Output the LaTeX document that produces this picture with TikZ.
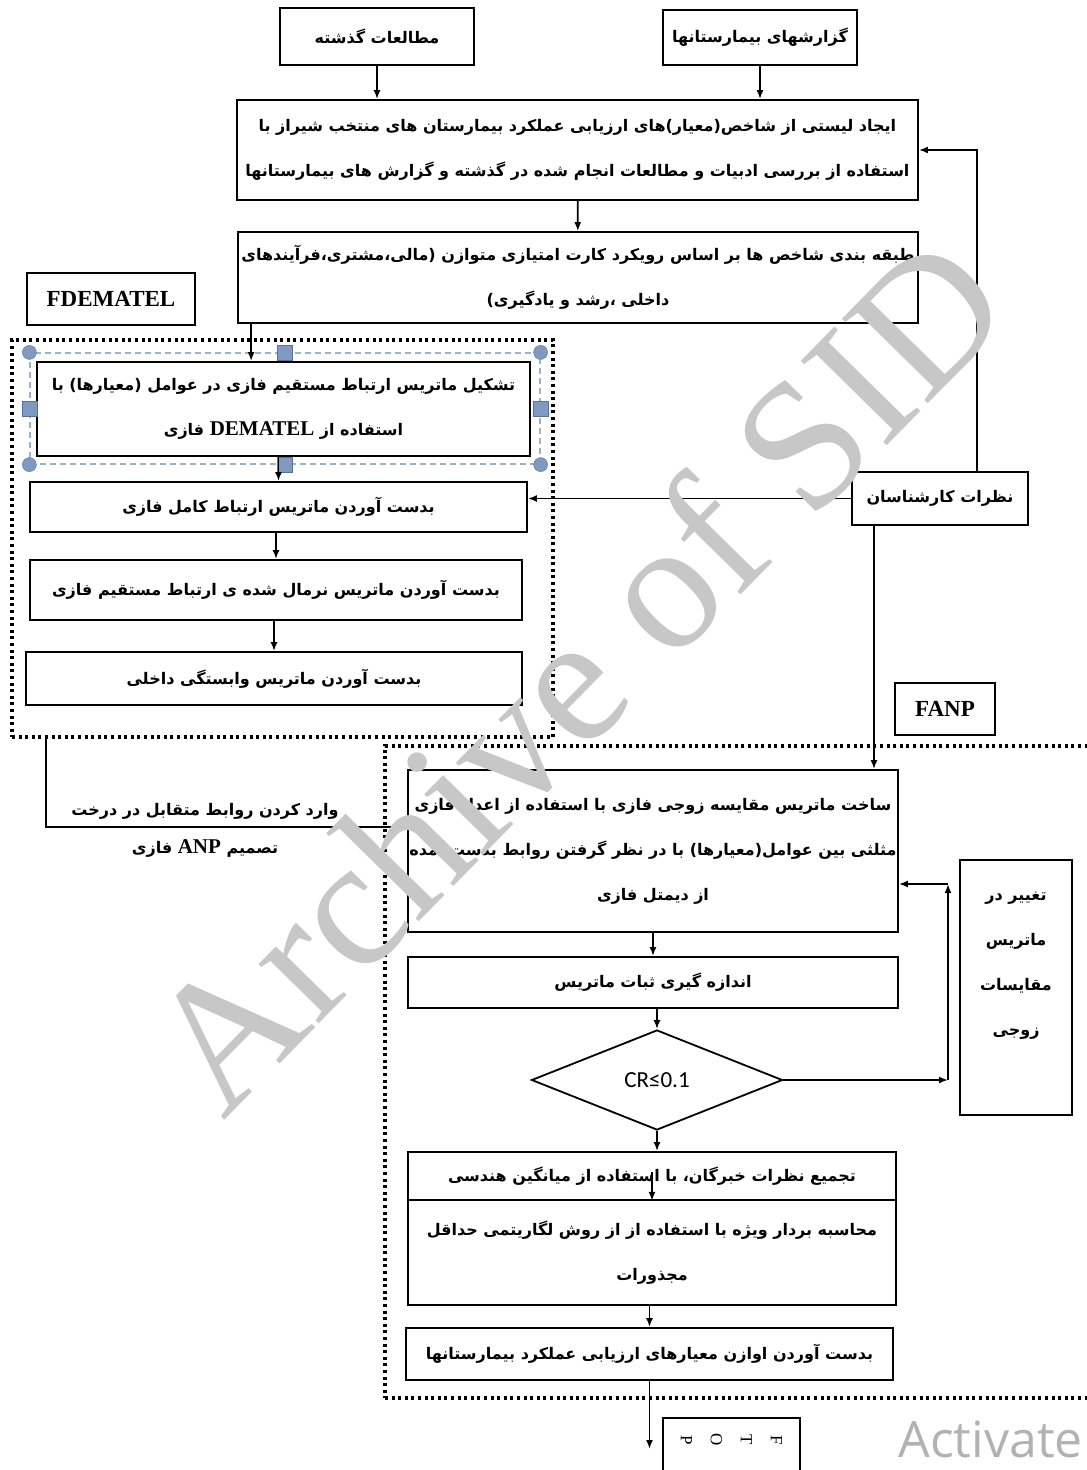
\documentclass[tikz,border=0pt]{standalone}
\usepackage{fontspec}
\usepackage{tikz}
\usetikzlibrary{shapes.geometric}
\usetikzlibrary{arrows.meta}
\setmainfont{Liberation Serif}
\newfontfamily\farsifont[Script=Arabic]{DejaVu Sans}
\newfontfamily\crfont{Carlito}
\newfontfamily\winfont{Open Sans}
\TeXXeTstate=1
\newcommand{\fa}[1]{{\farsifont\bfseries\beginR #1\endR}}
\newcommand{\lat}[1]{\beginL{\rmfamily\bfseries\fontsize{21}{21}\selectfont #1}\endL{}}
\definecolor{selblue}{HTML}{9DB2D0}
\definecolor{handlefill}{HTML}{7F9AC0}
\definecolor{handleline}{HTML}{55729F}

\begin{document}
\begin{tikzpicture}[x=1pt,y=-1pt,
    box/.style={draw,line width=1.8pt,inner sep=0pt,align=center,font=\fontsize{16}{45}\selectfont},
    tag/.style={draw,line width=1.8pt,inner sep=0pt,font=\fontsize{23}{26}\selectfont\bfseries},
    group/.style={draw,line width=3.6pt,dash pattern=on 3pt off 3.6pt,inner sep=0pt},
    flow/.style={-{Latex[length=9pt,width=7pt]},line width=1.8pt},
    selframe/.style={draw=selblue,dash pattern=on 6pt off 4pt,line width=1.2pt,inner sep=0pt},
    hsq/.style={draw=handleline,fill=handlefill,minimum size=15pt,inner sep=0pt},
    hcirc/.style={circle,draw=handleline,fill=handlefill,minimum size=14pt,inner sep=0pt}]
  \clip (0,0) rectangle (1087,1470);
  % sources and preparation
  \node (past) at (377,36.5) [box,minimum width=194,minimum height=57] {\fa{مطالعات گذشته}};
  \node (reports) at (760,37.5) [box,minimum width=194,minimum height=55] {\fa{گزارشهای بیمارستانها}};
  \node (list) at (577.5,150) [box,minimum width=681,minimum height=100]
    {\fa{ایجاد لیستی از شاخص(معیار)های ارزیابی عملکرد بیمارستان های منتخب شیراز با}\\
     \fa{استفاده از بررسی ادبیات و مطالعات انجام شده در گذشته و گزارش های بیمارستانها}};
  \node (classify) at (578,277.5) [box,minimum width=680,minimum height=91]
    {\fa{طبقه بندی شاخص ها بر اساس رویکرد کارت امتیازی متوازن (مالی،مشتری،فرآیندهای}\\
     \fa{داخلی ،رشد و یادگیری)}};
  \node (experts) at (940,498.5) [box,minimum width=176,minimum height=53] {\fa{نظرات کارشناسان}};

  % fuzzy DEMATEL part
  \node (fdemtag) at (111,299) [tag,minimum width=168,minimum height=52] {FDEMATEL};
  \node (fdembox) at (282.5,538.5) [group,minimum width=541,minimum height=397] {};
  \node (direct) at (283.5,409) [box,minimum width=493,minimum height=94]
    {\fa{تشکیل ماتریس ارتباط مستقیم فازی در عوامل (معیارها) با}\\
     \fa{استفاده از \lat{DEMATEL} فازی}};
  \node (sel) at (285,408.5) [selframe,minimum width=510,minimum height=111] {};
  \foreach \a in {north west,north east,south west,south east}
    \node (hc-\a) [hcirc] at (sel.\a) {};
  \foreach \a in {north,south,west,east}
    \node (hs-\a) [hsq] at (sel.\a) {};
  \node (total) at (278.5,507) [box,minimum width=497,minimum height=50] {\fa{بدست آوردن ماتریس ارتباط کامل فازی}};
  \node (normal) at (276,590) [box,minimum width=492,minimum height=60] {\fa{بدست آوردن ماتریس نرمال شده ی ارتباط مستقیم فازی}};
  \node (inner) at (274,678.5) [box,minimum width=496,minimum height=53] {\fa{بدست آوردن ماتریس وابستگی داخلی}};

  % fuzzy ANP part
  \node (fanptag) at (945,709) [tag,minimum width=100,minimum height=52] {FANP};
  \node (anpbox) at (742.5,1072) [group,minimum width=715,minimum height=652] {};
  \node (pairwise) at (653,851) [box,minimum width=490,minimum height=162]
    {\fa{ساخت ماتریس مقایسه زوجی فازی با استفاده از اعداد فازی}\\
     \fa{مثلثی بین عوامل(معیارها) با در نظر گرفتن روابط بدست آمده}\\
     \fa{از دیمتل فازی}};
  \node (consist) at (653,982.5) [box,minimum width=490,minimum height=51] {\fa{اندازه گیری ثبات ماتریس}};
  \node (cr) at (657,1080) [diamond,draw,line width=1.8pt,minimum width=251,minimum height=100,inner sep=0pt,
    font=\crfont\fontsize{23}{24}\selectfont] {CR≤0.1};
  \node (change) at (1016,987.5) [box,minimum width=112,minimum height=255] {};
  \node (changetext) at (1016,966) [align=center,font=\fontsize{16}{45}\selectfont]
    {\fa{تغییر در}\\ \fa{ماتریس}\\ \fa{مقایسات}\\ \fa{زوجی}};
  \node (aggregate) at (652,1176) [box,minimum width=488,minimum height=48] {\fa{تجمیع نظرات خبرگان، با استفاده از میانگین هندسی}};
  \node (eigen) at (652,1252.5) [box,minimum width=488,minimum height=105]
    {\fa{محاسبه بردار ویژه با استفاده از از روش لگاریتمی حداقل}\\
     \fa{مجذورات}};
  \node (weights) at (649.5,1354) [box,minimum width=487,minimum height=52] {\fa{بدست آوردن اوازن معیارهای ارزیابی عملکرد بیمارستانها}};
  \node (topf) at (731.5,1449) [draw,line width=1.8pt,minimum width=137,minimum height=62,inner sep=0pt] {};
  \node (topftext) at (731.5,1440) [rotate=-90,align=center,font=\fontsize{17}{30}\selectfont] {F\\T\\O\\P};

  % connectors
  \coordinate (c1) at ([xshift=14pt]classify.south west);
  \coordinate (e1) at ([xshift=37pt]experts.north);
  \coordinate (e2) at ([xshift=-66pt]experts.south);
  \coordinate (turn) at (948,1080);
  \coordinate (back) at ([yshift=-33pt]pairwise.east);
  \draw [flow] (past) -- (past |- list.north);
  \draw [flow] (reports) -- (reports |- list.north);
  \draw [flow] (list) -- (classify);
  \draw [flow] (c1) -- (c1 |- direct.north);
  \draw [flow] (total |- direct.south) -- (total.north);
  \draw [flow] (normal |- total.south) -- (normal.north);
  \draw [flow] (inner |- normal.south) -- (inner.north);
  \draw [flow] (e1) |- (list.east);
  \draw [flow] (experts.west) -- (experts.west -| total.east);
  \draw [flow] (e2) -- (e2 |- pairwise.north);
  \draw [flow] ([xshift=36pt]fdembox.south west) |- ([yshift=24pt]pairwise.west)
    node (into1) [pos=0.72,above=3pt,font=\fontsize{16}{20}\selectfont] {\fa{وارد کردن روابط متقابل در درخت}}
    node (into2) [pos=0.72,below=8pt,font=\fontsize{16}{20}\selectfont] {\fa{تصمیم \lat{ANP} فازی}};
  \draw [flow] (pairwise) -- (consist);
  \draw [flow] (cr |- consist.south) -- (cr.north);
  \draw [flow] (cr.east) -- (turn);
  \draw [flow] (turn) -- (turn |- back);
  \draw [flow] (turn |- back) -- (back);
  \draw [flow] (cr.south) -- (cr.south |- aggregate.north);
  \draw [flow] ([yshift=4pt]aggregate.center) -- (aggregate.south);
  \draw [flow] (weights |- eigen.south) -- (weights.north);
  \draw [flow] (weights.south) -- (weights.south |- topf.center);

  % marks printed over the scan
  \node (activate) at (895,1457) [anchor=base west,text=black!30,font=\winfont\fontsize{50}{50}\selectfont] {Activate};
  \node (wm) at (575,672) [rotate=45.5,text=black!22,font=\fontsize{184}{184}\selectfont] {Archive of SID};
\end{tikzpicture}
\end{document}
